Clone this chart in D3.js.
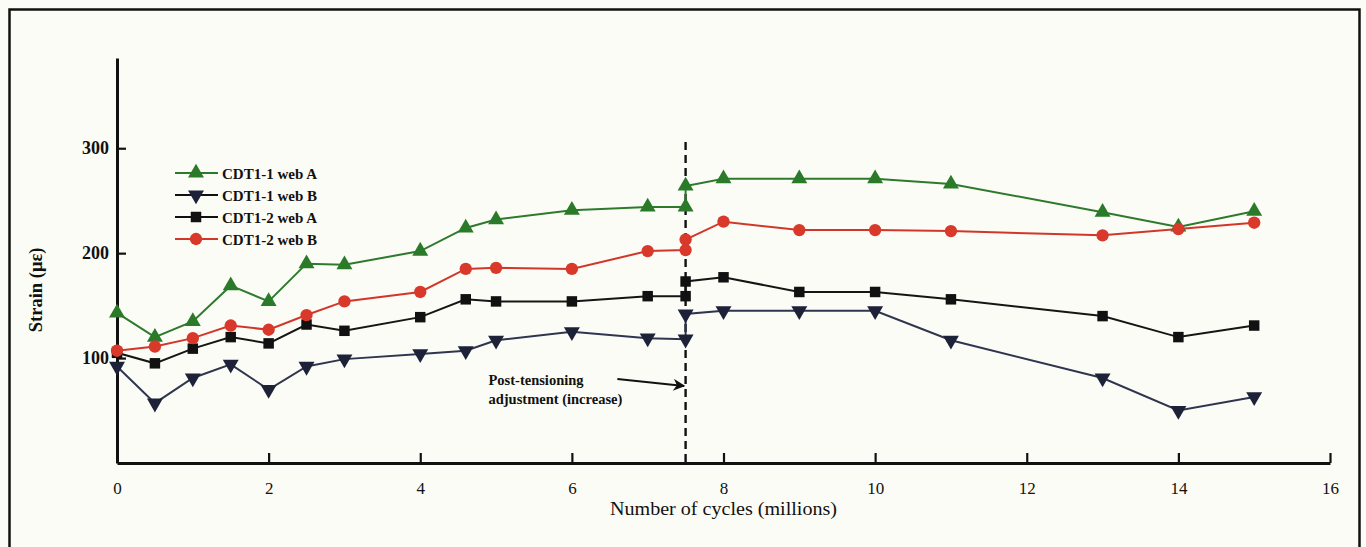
<!DOCTYPE html>
<html><head><meta charset="utf-8">
<script src="https://cdn.jsdelivr.net/npm/d3@7"></script>
<style>
html,body{margin:0;padding:0;background:#fcfcf6;}
svg{display:block;}
text{font-family:"Liberation Serif","Times New Roman",serif;fill:#111;}
</style></head>
<body><svg id="c" width="1366" height="547"></svg>
<script>
// ---- data ----
const cycles = [0, 0.5, 1, 1.5, 2, 2.5, 3, 4, 4.6, 5, 6, 7, 7.5, 7.5, 8, 9, 10, 11, 13, 14, 15];
const cdt11WebA = [143, 120, 135, 169, 154, 190, 189, 202, 224, 232, 241, 244, 244, 264, 271, 271, 271, 266, 239, 225, 240];
const cdt11WebB = [92, 57, 81, 94, 70, 92, 99, 104, 107, 117, 125, 119, 118, 142, 145, 145, 145, 117, 81, 50, 63];
const cdt12WebA = [105, 95, 109, 120, 114, 132, 126, 139, 156, 154, 154, 159, 159, 173, 177, 163, 163, 156, 140, 120, 131];
const cdt12WebB = [107, 111, 119, 131, 127, 141, 154, 163, 185, 186, 185, 202, 203, 213, 230, 222, 222, 221, 217, 223, 229];
const seriesNames = ["CDT1-1 web A", "CDT1-1 web B", "CDT1-2 web A", "CDT1-2 web B"];
const xTicks = [0, 2, 4, 6, 8, 10, 12, 14, 16];
const yTicks = [100, 200, 300];
const xTitle = "Number of cycles (millions)";
const yTitle = "Strain (με)";
const adjustmentAt = 7.5;
const noteLines = ["Post-tensioning", "adjustment (increase)"];

// ---- layout ----
const svg = d3.select("#c");
const x = d3.scaleLinear().domain([0, 16]).range([117, 1330]);
const y = d3.scaleLinear().domain([0, 386]).range([463, 58]);

// frame
svg.append("rect").attr("x", 9.5).attr("y", 9.5).attr("width", 1350).attr("height", 560)
  .attr("fill", "none").attr("stroke", "#111").attr("stroke-width", 2.5);

// axes
const xAxis = d3.axisBottom(x).tickValues(xTicks).tickFormat(d3.format("d"))
  .tickSize(-10).tickSizeOuter(0).tickPadding(19);
const gx = svg.append("g").attr("transform", `translate(0,${y(0)})`).call(xAxis);
gx.select(".domain").attr("stroke", "#111").attr("stroke-width", 3);
gx.selectAll(".tick line").attr("stroke", "#111").attr("stroke-width", 2.2);
gx.selectAll(".tick text").attr("font-size", 17).attr("font-family", "Liberation Serif").attr("fill", "#111");

const yAxis = d3.axisLeft(y).tickValues(yTicks).tickFormat(d3.format("d"))
  .tickSize(-9).tickSizeOuter(0).tickPadding(8);
const gy = svg.append("g").attr("transform", `translate(${x(0)},0)`).call(yAxis);
gy.select(".domain").attr("stroke", "#111").attr("stroke-width", 3);
gy.selectAll(".tick line").attr("stroke", "#111").attr("stroke-width", 2.2);
gy.selectAll(".tick text").attr("font-size", 18).attr("font-weight", "bold")
  .attr("font-family", "Liberation Serif").attr("fill", "#111");

// titles
svg.append("text").attr("x", x(8)).attr("y", 515).attr("text-anchor", "middle")
  .attr("font-size", 18).attr("textLength", 227).attr("lengthAdjust", "spacingAndGlyphs").text(xTitle);
svg.append("text").attr("transform", `translate(42,${y(165)}) rotate(-90)`)
  .attr("text-anchor", "middle").attr("font-size", 18.5).attr("font-weight", "bold").text(yTitle);

// dashed adjustment line
svg.append("line").attr("x1", x(adjustmentAt)).attr("x2", x(adjustmentAt))
  .attr("y1", y(306)).attr("y2", y(0)).attr("stroke", "#111").attr("stroke-width", 2.4)
  .attr("stroke-dasharray", "8,5");

// series
const series = [
  {name: seriesNames[0], vals: cdt11WebA, line: "#2d7a2d", fill: "#2a7a2a", sym: d3.symbolTriangle, rot: 0, size: 110},
  {name: seriesNames[1], vals: cdt11WebB, line: "#30354f", fill: "#1e2238", sym: d3.symbolTriangle, rot: 180, size: 110},
  {name: seriesNames[2], vals: cdt12WebA, line: "#151515", fill: "#111", sym: d3.symbolSquare, rot: 0, size: 110},
  {name: seriesNames[3], vals: cdt12WebB, line: "#d2362a", fill: "#d8392b", sym: d3.symbolCircle, rot: 0, size: 120}
];
const lineGen = d3.line().x(d => x(d[0])).y(d => y(d[1]));
series.forEach(s => {
  const pts = cycles.map((c, i) => [c, s.vals[i]]);
  svg.append("path").datum(pts).attr("d", lineGen).attr("fill", "none")
    .attr("stroke", s.line).attr("stroke-width", 2);
});
series.forEach(s => {
  const pts = cycles.map((c, i) => [c, s.vals[i]]);
  svg.append("g").selectAll("path").data(pts).join("path")
    .attr("d", d3.symbol().type(s.sym).size(s.size))
    .attr("transform", d => `translate(${x(d[0])},${y(d[1])}) rotate(${s.rot})`)
    .attr("fill", s.fill);
});

// legend
const lg = svg.append("g").attr("transform", "translate(175,173)");
series.forEach((s, i) => {
  const g = lg.append("g").attr("transform", `translate(0,${i * 22})`);
  g.append("line").attr("x1", 0).attr("x2", 43).attr("y1", 0).attr("y2", 0)
    .attr("stroke", i === 0 ? s.line : (i === 3 ? s.line : "#111")).attr("stroke-width", 2);
  g.append("path").attr("d", d3.symbol().type(s.sym).size(s.size))
    .attr("transform", `translate(21,0) rotate(${s.rot})`).attr("fill", s.fill);
  g.append("text").attr("x", 47).attr("y", 5.5).attr("font-size", 15).attr("font-weight", "bold").text(s.name);
});

// annotation
const note = svg.append("g");
note.append("text").attr("x", x(4.9)).attr("y", y(74)).attr("font-size", 14.5).attr("font-weight", "bold").text(noteLines[0]);
note.append("text").attr("x", x(4.9)).attr("y", y(56)).attr("font-size", 14.5).attr("font-weight", "bold").text(noteLines[1]);
svg.append("defs").append("marker").attr("id", "ah").attr("viewBox", "0 0 10 10")
  .attr("refX", 9).attr("refY", 5).attr("markerWidth", 14).attr("markerHeight", 12)
  .attr("markerUnits", "userSpaceOnUse").attr("orient", "auto")
  .append("path").attr("d", "M0,0 L10,5 L0,10 L3,5 Z").attr("fill", "#111");
svg.append("line").attr("x1", x(6.6)).attr("y1", y(80)).attr("x2", x(7.48)).attr("y2", y(73.5))
  .attr("stroke", "#111").attr("stroke-width", 2).attr("marker-end", "url(#ah)");
</script></body></html>
